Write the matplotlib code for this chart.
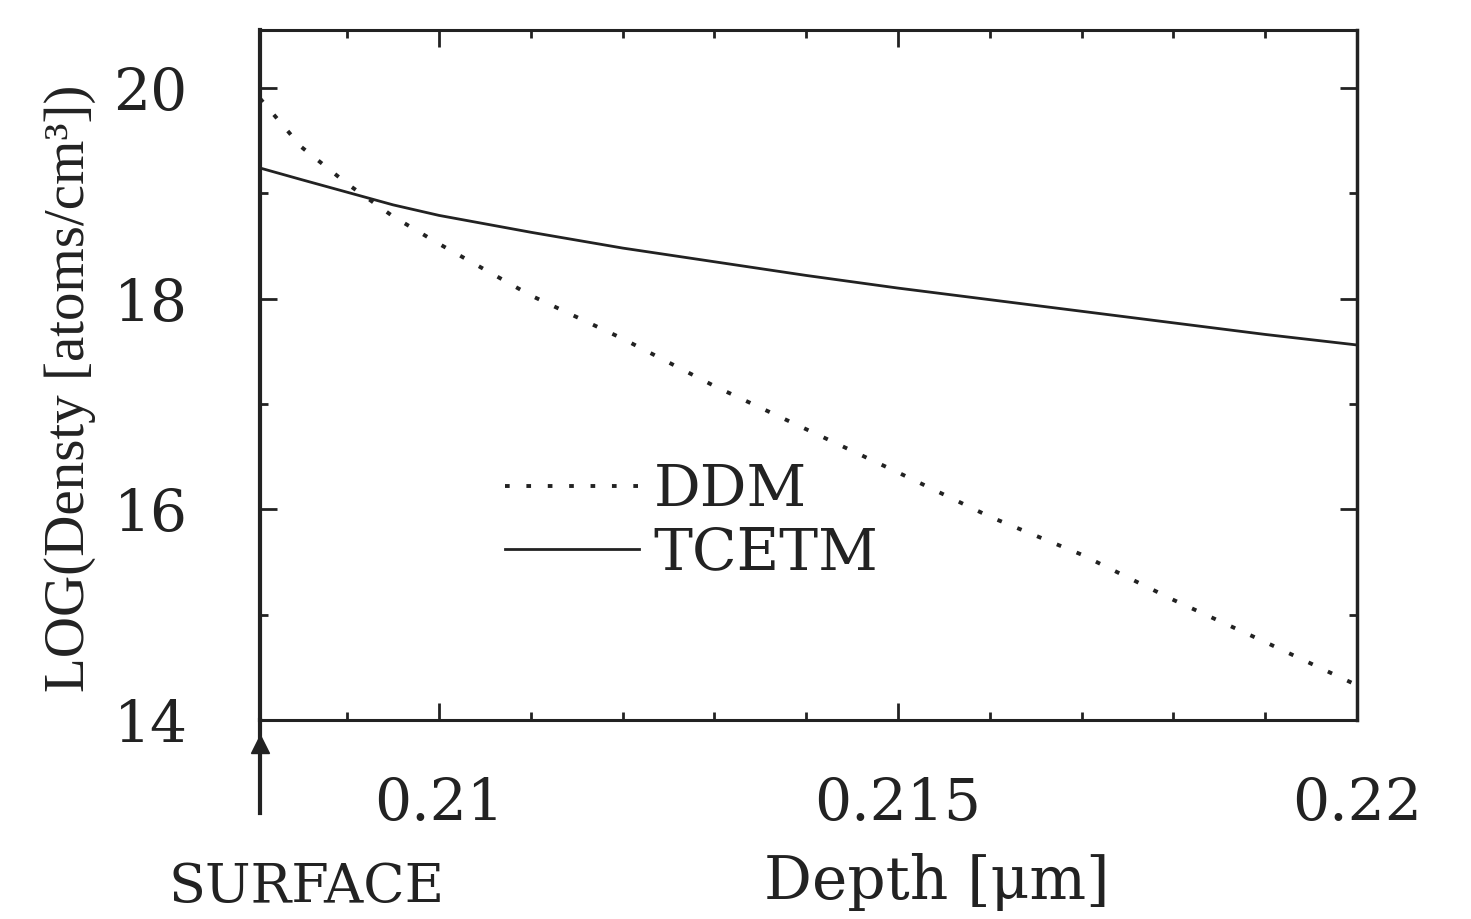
import matplotlib
matplotlib.use("Agg")
import matplotlib.pyplot as plt
from matplotlib.ticker import FixedLocator, MultipleLocator

# ---- data ----
depth = [0.20805, 0.2085, 0.209, 0.2095, 0.210, 0.211, 0.212, 0.213,
         0.214, 0.215, 0.216, 0.217, 0.218, 0.219, 0.220]
ddm = [19.90, 19.44, 19.09, 18.78, 18.52, 18.03, 17.62, 17.17,
       16.76, 16.35, 15.93, 15.57, 15.14, 14.74, 14.33]
tcetm = [19.24, 19.13, 19.01, 18.89, 18.79, 18.63, 18.48, 18.35,
         18.22, 18.10, 17.99, 17.88, 17.77, 17.66, 17.56]
series_labels = ["DDM", "TCETM"]
x_ticks = [0.21, 0.215, 0.22]
x_tick_labels = ["0.21", "0.215", "0.22"]
y_ticks = [14, 16, 18, 20]
y_tick_labels = ["14", "16", "18", "20"]
xlabel = "Depth [\u03bcm]"
ylabel = "LOG(Densty [atoms/cm\u00b3])"
surface_label = "SURFACE"

W, H = 1471, 919
fig = plt.figure(figsize=(W / 100, H / 100), dpi=100)
ax = fig.add_axes([260 / W, 1 - 720 / H, (1357 - 260) / W, (720 - 30) / H])

ink = "#222222"
ax.plot(depth, ddm, color=ink, lw=2.8, linestyle=(0, (1.2, 4.3)),
        label=series_labels[0])
ax.plot(depth, tcetm, color=ink, lw=2.0, linestyle="-", label=series_labels[1])

ax.set_xlim(0.20805, 0.22)
ax.set_ylim(14, 20.55)

serif = "DejaVu Serif"
ax.xaxis.set_major_locator(FixedLocator(x_ticks))
ax.set_xticklabels(x_tick_labels, fontsize=42, family=serif, color=ink)
ax.xaxis.set_minor_locator(MultipleLocator(0.001))
ax.yaxis.set_major_locator(FixedLocator(y_ticks))
ax.set_yticklabels(y_tick_labels, fontsize=42, family=serif, color=ink)
ax.yaxis.set_minor_locator(MultipleLocator(1))

ax.tick_params(which="both", direction="in", top=True, right=True, colors=ink)
ax.tick_params(which="major", length=12, width=2)
ax.tick_params(which="minor", length=6, width=2)
ax.tick_params(axis="x", which="major", pad=40)
ax.tick_params(axis="y", which="major", pad=52)

for side in ["left", "right", "top", "bottom"]:
    ax.spines[side].set_color(ink)
ax.spines["left"].set_linewidth(3)
ax.spines["right"].set_linewidth(2.5)
ax.spines["top"].set_linewidth(2.2)
ax.spines["bottom"].set_linewidth(2.2)

# surface marker below the left axis
ax.plot([0, 0], [0, -0.135], transform=ax.transAxes, color=ink, lw=3,
        clip_on=False)
ax.plot([0], [-0.035], transform=ax.transAxes, marker="^", color=ink,
        markersize=13, clip_on=False)

leg = ax.legend(loc="upper left", bbox_to_anchor=(505 / W, 1 - 462 / H),
                bbox_transform=fig.transFigure, frameon=False,
                prop={"family": serif, "size": 42}, handlelength=2.3,
                handletextpad=0.25, labelspacing=0.12, borderpad=0.0,
                borderaxespad=0.0)
for t in leg.get_texts():
    t.set_color(ink)

fig.text(70 / W, 1 - 388 / H, ylabel, rotation=90, ha="center", va="center",
         fontsize=41, family="Liberation Serif", color=ink)
fig.text(937 / W, 1 - 882 / H, xlabel, ha="center", va="center",
         fontsize=43, family=serif, color=ink)
fig.text(307 / W, 1 - 888 / H, surface_label, ha="center", va="center",
         fontsize=39, family=serif, color=ink)

fig.savefig("out.png", dpi=100, facecolor="white")
